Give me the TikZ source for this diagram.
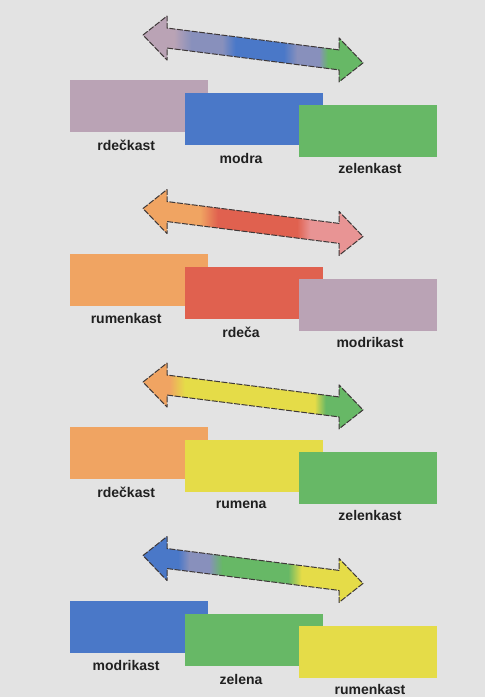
\documentclass[tikz,border=0pt]{standalone}
\usepackage{fontspec}
\setmainfont{Liberation Sans}
\usepackage{xcolor}
\usetikzlibrary{positioning}
\definecolor{bgGray}{HTML}{E3E3E3}
\definecolor{cMauve}{HTML}{BAA3B5}
\definecolor{cBlue}{HTML}{4A78C8}
\definecolor{cGreen}{HTML}{67B866}
\definecolor{cOrange}{HTML}{F0A462}
\definecolor{cRed}{HTML}{E0614F}
\definecolor{cYellow}{HTML}{E5DC48}
\definecolor{cGrayBlue}{HTML}{8890BC}
\definecolor{cPink}{HTML}{E89494}
\definecolor{arrowInk}{HTML}{3E3838}
\definecolor{labelInk}{HTML}{202020}
% colour runs along the double arrows (bbox spans 25bp..75bp)
\pgfdeclarehorizontalshading{shA}{100bp}{color(0bp)=(cMauve); color(32bp)=(cMauve); color(36bp)=(cGrayBlue);
  color(43bp)=(cGrayBlue); color(46bp)=(cBlue); color(57bp)=(cBlue); color(60bp)=(cGrayBlue);
  color(65bp)=(cGrayBlue); color(67bp)=(cGreen); color(100bp)=(cGreen)}
\pgfdeclarehorizontalshading{shB}{100bp}{color(0bp)=(cOrange); color(38bp)=(cOrange); color(42bp)=(cRed);
  color(60bp)=(cRed); color(63bp)=(cPink); color(100bp)=(cPink)}
\pgfdeclarehorizontalshading{shC}{100bp}{color(0bp)=(cOrange); color(31bp)=(cOrange); color(34.5bp)=(cYellow);
  color(64bp)=(cYellow); color(66.5bp)=(cGreen); color(100bp)=(cGreen)}
\pgfdeclarehorizontalshading{shD}{100bp}{color(0bp)=(cBlue); color(33bp)=(cBlue); color(35.5bp)=(cGrayBlue);
  color(40bp)=(cGrayBlue); color(43bp)=(cGreen); color(58bp)=(cGreen); color(61bp)=(cYellow); color(100bp)=(cYellow)}

\begin{document}
\begin{tikzpicture}[x=1pt,y=-1pt,
  colbox/.style={minimum width=138pt,minimum height=52pt,inner sep=0pt,anchor=north west},
  collabel/.style={font=\fontsize{14}{16}\selectfont\bfseries,text=labelInk,inner sep=0pt},
  arrowedge/.style={draw=arrowInk,line width=1pt,dash pattern=on 6pt off 1.5pt,line join=round}]
\fill[bgGray](0,0)rectangle(485,697);
\useasboundingbox(0,0)rectangle(485,697);
\foreach \g/\sh/\ca/\cb/\cc/\la/\lb/\lc in {
  0/shA/cMauve/cBlue/cGreen/rdečkast/modra/zelenkast,
  1/shB/cOrange/cRed/cMauve/rumenkast/rdeča/modrikast,
  2/shC/cOrange/cYellow/cGreen/rdečkast/rumena/zelenkast,
  3/shD/cBlue/cGreen/cYellow/modrikast/zelena/rumenkast}{
\begin{scope}[yshift=-\g*173.5pt]
  % slanted double arrow
  \begin{scope}[shift={(143,35)},yslant=-0.127]
    \path[shading=\sh,arrowedge](0,0)--(24,-22)--(24,-10)--(196,-10)--(196,-22)--(220,0)
      --(196,22)--(196,10)--(24,10)--(24,22)--cycle;
  \end{scope}
  \node[colbox,fill=\ca](r\g a)at(70,80){};
  \node[colbox,fill=\cb,below right=13pt and -24pt of r\g a.north east](r\g b){};
  \node[colbox,fill=\cc,below right=12pt and -24pt of r\g b.north east](r\g c){};
  \node[collabel,below=7pt of r\g a.south,xshift=-13pt](l\g a){\la};
  \node[collabel,below=8pt of r\g b.south,xshift=-12.5pt](l\g b){\lb};
  \node[collabel,below=6pt of r\g c.south,xshift=2pt](l\g c){\lc};
\end{scope}}
\end{tikzpicture}
\end{document}
